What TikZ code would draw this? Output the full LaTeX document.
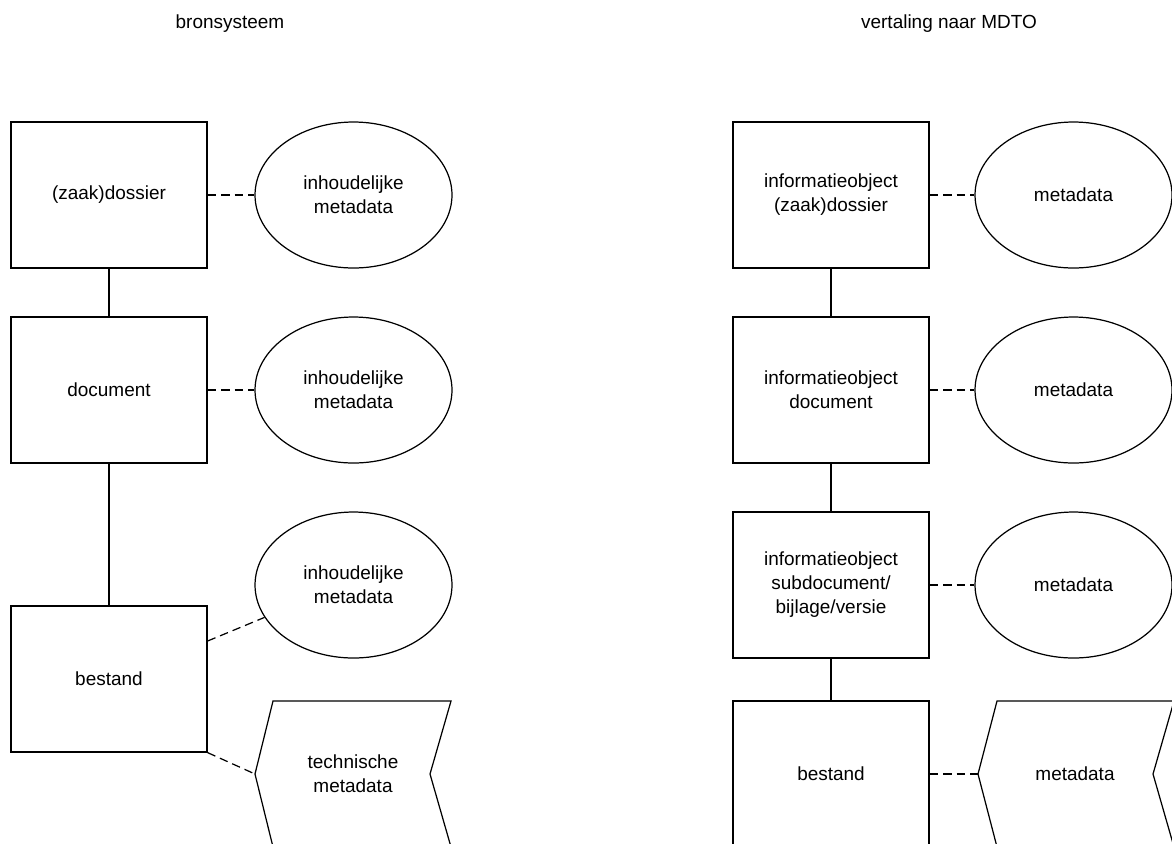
\documentclass[tikz,border=0pt]{standalone}
\usepackage{fontspec}
\setmainfont{Liberation Sans}
\usetikzlibrary{shapes.geometric}
\begin{document}
\begin{tikzpicture}[x=0.02cm,y=-0.02cm,line width=0.7pt,
  every node/.style={font=\fontsize{10.8}{13.7}\selectfont, align=center},
  obj/.style={draw, rectangle, minimum width=3.92cm, minimum height=2.92cm, inner sep=0pt},
  meta/.style={draw, ellipse, minimum width=3.94cm, minimum height=2.92cm, inner sep=0pt},
  link/.style={dash pattern=on 0.17cm off 0.1cm}]
\useasboundingbox (0,0) rectangle (1172,843);
\node (bron) at (230,24) {bronsysteem};
\node (mdto) at (949,24) {vertaling naar MDTO};
% bronsysteem
\node[obj] (dossier) at (109,195) {(zaak)dossier};
\node[obj] (doc) at (109,390) {document};
\node[obj] (best) at (109,679) {bestand};
\node[meta] (inh1) at (353.5,195) {inhoudelijke\\metadata};
\node[meta] (inh2) at (353.5,390) {inhoudelijke\\metadata};
\node[meta] (inh3) at (353.5,585) {inhoudelijke\\metadata};
\draw (273,701)--(255,774) coordinate (techtip)--(273,847)--(451,847)--(430,774)--(451,701)--cycle;
\node (tech) at (353,774) {technische\\metadata};
\draw (dossier)--(doc);
\draw (doc)--(best);
\draw[link] (dossier)--(inh1);
\draw[link] (doc)--(inh2);
\draw[link] ([yshift=0.76cm]best.east)--(inh3.200);
\draw[link] (best.south east)--(techtip);
% vertaling naar MDTO
\node[obj] (io1) at (831,195) {informatieobject\\(zaak)dossier};
\node[obj] (io2) at (831,390) {informatieobject\\document};
\node[obj] (io3) at (831,585) {informatieobject\\subdocument/\\bijlage/versie};
\node[obj] (iobest) at (831,774) {bestand};
\node[meta] (md1) at (1073.5,195) {metadata};
\node[meta] (md2) at (1073.5,390) {metadata};
\node[meta] (md3) at (1073.5,585) {metadata};
\draw (997,701)--(978,774) coordinate (mdtip)--(997,847)--(1174,847)--(1153,774)--(1174,701)--cycle;
\node (md4) at (1075,774) {metadata};
\draw (io1)--(io2);
\draw (io2)--(io3);
\draw (io3)--(iobest);
\draw[link] (io1)--(md1);
\draw[link] (io2)--(md2);
\draw[link] (io3)--(md3);
\draw[link] (iobest)--(mdtip);
\end{tikzpicture}
\end{document}
